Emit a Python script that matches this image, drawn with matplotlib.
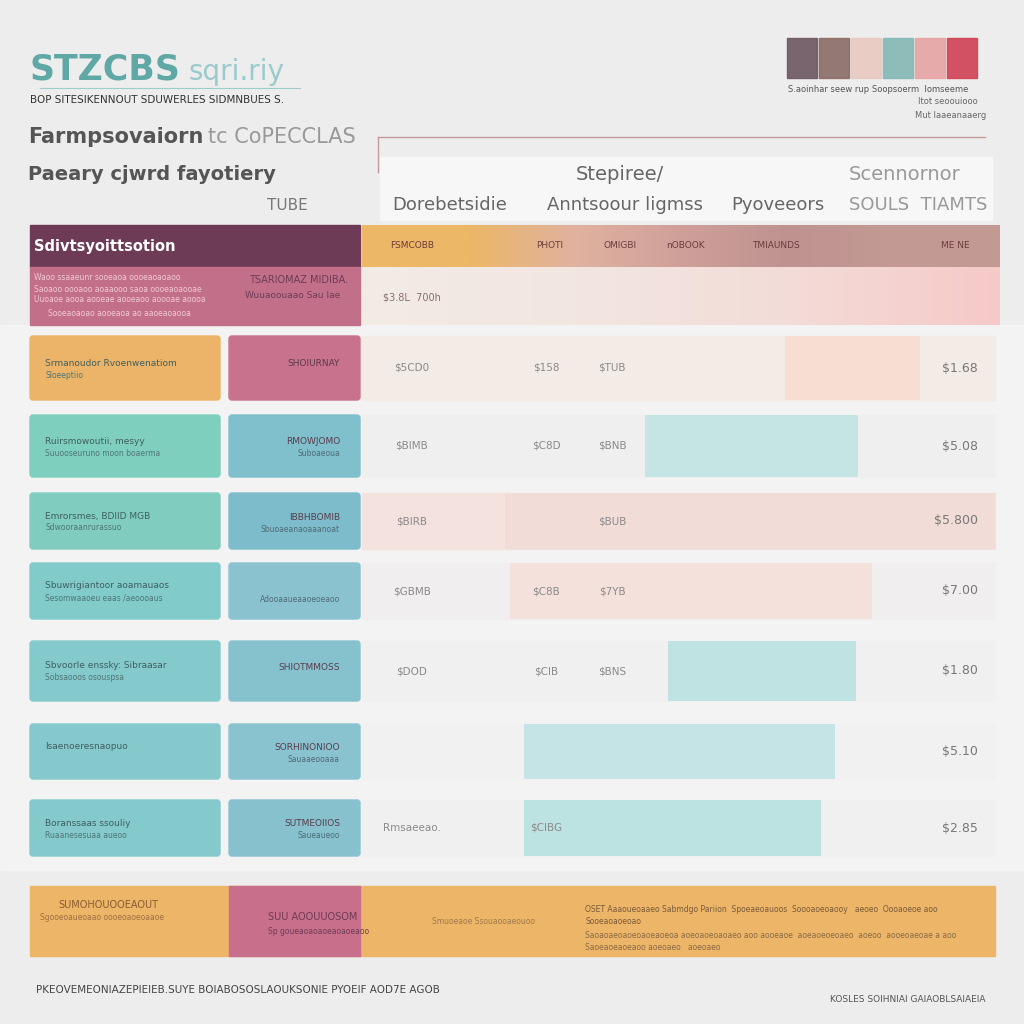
import numpy as np
import matplotlib.pyplot as plt
from matplotlib.patches import Rectangle, FancyBboxPatch
from matplotlib.colors import LinearSegmentedColormap

# --- data ---
row_titles = ["Srmanoudor Rvoenwenatiom", "Ruirsmowoutii, mesyy", "Emrorsmes, BDIID MGB",
              "Sbuwrigiantoor aoamauaos", "Sbvoorle enssky: Sibraasar", "Isaenoeresnaopuo",
              "Boranssaas ssouliy"]
row_subs = ["Sloeeptiio", "Suuooseuruno moon boaerma", "Sdwooraanrurassuo",
            "Sesomwaaoeu eaas /aeoooaus", "Sobsaooos osouspsa", "", "Ruaanesesuaa aueoo"]
mid_titles = ["SHOIURNAY", "RMOWJOMO", "IBBHBOMIB", "", "SHIOTMMOSS", "SORHINONIOO", "SUTMEOIIOS"]
mid_subs = ["", "Suboaeoua", "Sbuoaeanaoaaanoat", "Adooaaueaaoeoeaoo", "", "Sauaaeooaaa", "Saueaueoo"]
left_colors = ["#ebb468", "#7fcfbf", "#80cdbf", "#82cbcb", "#84cacd", "#85c9cd", "#84c9cc"]
mid_colors = ["#c8728d", "#80bfcc", "#7cbccb", "#8ac3cf", "#86c2ce", "#88c3cf", "#86c1cd"]
row_fill = ["#f2ebe6", "#efefef", "#f3e2dd", "#f0eeee", "#f0f0f0", "#f1f1f1", "#f0f0f0"]
first_vals = ["$5CD0", "$BIMB", "$BIRB", "$GBMB", "$DOD", "", "Rmsaeeao."]
second_vals = ["$158", "$C8D", "", "$C8B", "$CIB", "", "$CIBG"]
third_vals = ["$TUB", "$BNB", "$BUB", "$7YB", "$BNS", "", ""]
bar_start = [785, 645, 505, 510, 668, 524, 524]
bar_end = [920, 858, 995, 872, 856, 835, 821]
bar_colors = ["#f8ddd3", "#c5e5e4", "#f2dcd8", "#f5e1dc", "#bfe2e3", "#c5e4e5", "#bde2e2"]
prices = ["$1.68", "$5.08", "$5.800", "$7.00", "$1.80", "$5.10", "$2.85"]
row_top = [336, 415, 493, 563, 641, 724, 800]
row_bot = [400, 477, 549, 619, 701, 779, 856]

col_heads = ["Dorebetsidie", "Anntsoour ligmss", "Pyoveeors", "SOULS  TIAMTS"]
col_head_x = [450, 625, 778, 918]
swatch_colors = ["#6d5660", "#8b6b66", "#e9c9c0", "#84b8b4", "#e7a3a3", "#cf4154"]
head_cells = ["FSMCOBB", "PHOTI", "OMIGBI", "nOBOOK", "TMIAUNDS", "", "ME NE"]
head_x = [412, 550, 620, 685, 776, 878, 955]

fig = plt.figure(figsize=(10.24, 10.24), dpi=100)
fig.patch.set_facecolor("#ededed")
ax = fig.add_axes([0, 0, 1, 1])
ax.set_xlim(0, 1024)
ax.set_ylim(1024, 0)
ax.axis("off")

# light page panels
ax.add_patch(Rectangle((0, 325), 1024, 545, color="#f3f3f3", zorder=0))
ax.add_patch(Rectangle((380, 157), 612, 63, color="#f7f7f7", zorder=1))
ax.plot([378, 985], [137, 137], color="#c59a9a", lw=1.0)
ax.plot([378, 378], [137, 172], color="#c59a9a", lw=1.0)

# title block
ax.text(30, 70, "STZCBS", color="#5fa8a5", fontsize=25, fontweight="bold",
        family="DejaVu Sans", va="center")
ax.text(188, 72, "sqri.riy", color="#8cc4c6", fontsize=20, va="center", alpha=0.85)
ax.plot([40, 300], [88, 88], color="#9ecdcd", lw=0.8)
ax.text(30, 100, "BOP SITESIKENNOUT SDUWERLES SIDMNBUES S.", color="#333333",
        fontsize=7.5, va="center")
ax.text(28, 137, "Farmpsovaiorn", color="#555555", fontsize=15, fontweight="bold", va="center")
ax.text(208, 137, "tc CoPECCLAS", color="#999999", fontsize=15, va="center")
ax.text(28, 175, "Paeary cjwrd fayotiery", color="#555555", fontsize=14, fontweight="bold",
        va="center")
ax.text(287, 205, "TUBE", color="#777777", fontsize=11, ha="center", va="center")

# top right swatches
for i, c in enumerate(swatch_colors):
    ax.add_patch(Rectangle((787 + i * 32, 38), 30, 40, color=c, alpha=0.9, zorder=2))
ax.text(788, 89, "S.aoinhar seew rup", fontsize=6, color="#555555", va="center")
ax.text(872, 89, "Soopsoerm  Iomseeme", fontsize=6, color="#555555", va="center")
ax.text(918, 101, "Itot seoouiooo", fontsize=6, color="#666666", va="center")
ax.text(915, 116, "Mut Iaaeanaaerg", fontsize=6, color="#666666", va="center")

# column headers
ax.text(620, 175, "Stepiree/", fontsize=14, color="#666666", ha="center", va="center")
ax.text(905, 175, "Scennornor", fontsize=14, color="#999999", ha="center", va="center")
for x, s in zip(col_head_x, col_heads):
    ax.text(x, 205, s, fontsize=13, color="#666666" if x < 850 else "#999999",
            ha="center", va="center")

# header row
ax.add_patch(Rectangle((30, 225), 330, 42, color="#6e3b56", zorder=2))
ax.add_patch(Rectangle((30, 267), 330, 58, color="#c27089", zorder=2))
ax.text(34, 247, "Sdivtsyoittsotion", color="white", fontsize=10.5, fontweight="bold",
        va="center", zorder=3)
for k, s in enumerate(["Waoo ssaaeunr sooeaoa oooeaoaoaoo", "Saoaoo oooaoo aoaaooo saoa oooeaoaooae",
                       "Uuoaoe aooa aooeae aooeaoo aoooae aoooa"]):
    ax.text(34, 278 + k * 11, s, color="#f1c8d3", fontsize=5.5, va="center", zorder=3)
ax.text(48, 313, "Sooeaoaoao aooeaoa ao aaoeaoaooa", color="#f1c8d3", fontsize=5.5,
        va="center", zorder=3)
ax.text(348, 280, "TSARIOMAZ MIDIBA.", color="#6e3b56", fontsize=7, ha="right",
        va="center", zorder=3)
ax.text(340, 295, "Wuuaoouaao Sau Iae", color="#6e3b56", fontsize=6.5, ha="right",
        va="center", zorder=3)

hdr_cmap = LinearSegmentedColormap.from_list(
    "hdr", ["#ecb767", "#ecb767", "#e0b29f", "#cfa09a", "#bf9290", "#c39a94", "#c49a93"])
ax.imshow(np.linspace(0, 1, 256)[None, :], cmap=hdr_cmap, aspect="auto",
          extent=(362, 1000, 267, 225), zorder=2)
low_cmap = LinearSegmentedColormap.from_list(
    "low", ["#f3ebe6", "#f2e6e1", "#f3dcd8", "#f6c9c8"])
ax.imshow(np.linspace(0, 1, 256)[None, :], cmap=low_cmap, aspect="auto",
          extent=(362, 1000, 325, 267), zorder=2)
ax.set_xlim(0, 1024)
ax.set_ylim(1024, 0)
for x, s in zip(head_x, head_cells):
    ax.text(x, 246, s, fontsize=6.5, color="#6a3c3c", ha="center", va="center", zorder=3)
ax.text(412, 297, "$3.8L  700h", fontsize=7, color="#8a7070", ha="center", va="center", zorder=3)

# body rows
for i in range(len(row_titles)):
    t, b = row_top[i], row_bot[i]
    h = b - t
    ax.add_patch(FancyBboxPatch((30, t), 190, h, boxstyle="round,pad=0,rounding_size=3",
                                color=left_colors[i], zorder=2))
    ax.add_patch(FancyBboxPatch((229, t), 131, h, boxstyle="round,pad=0,rounding_size=3",
                                color=mid_colors[i], zorder=2))
    ax.add_patch(Rectangle((362, t), 633, h, color=row_fill[i], zorder=1))
    ax.barh((t + b) / 2, bar_end[i] - bar_start[i], left=bar_start[i], height=h,
            color=bar_colors[i], zorder=2)
    ax.text(45, (t + b) / 2 - 5, row_titles[i], fontsize=6.5, color="#3f5f5f",
            va="center", zorder=3)
    ax.text(45, (t + b) / 2 + 7, row_subs[i], fontsize=5.5, color="#4f7575",
            va="center", zorder=3)
    ax.text(340, (t + b) / 2 - 4, mid_titles[i], fontsize=6.5, color="#5a3b4b",
            ha="right", va="center", zorder=3)
    ax.text(340, (t + b) / 2 + 8, mid_subs[i], fontsize=5.5, color="#4f6b75",
            ha="right", va="center", zorder=3)
    ax.text(412, (t + b) / 2, first_vals[i], fontsize=7.5, color="#8a8a8a",
            ha="center", va="center", zorder=3)
    ax.text(546, (t + b) / 2, second_vals[i], fontsize=7.5, color="#8a8a8a",
            ha="center", va="center", zorder=3)
    ax.text(612, (t + b) / 2, third_vals[i], fontsize=7.5, color="#8a8a8a",
            ha="center", va="center", zorder=3)
    ax.text(978, (t + b) / 2, prices[i], fontsize=9, color="#777777",
            ha="right", va="center", zorder=3)

# footer row
ax.add_patch(Rectangle((30, 886), 965, 70, color="#ecb568", zorder=2))
ax.add_patch(Rectangle((229, 886), 131, 70, color="#c8708b", zorder=2))
ax.text(58, 905, "SUMOHOUOOEAOUT", fontsize=7, color="#8a5a30", va="center", zorder=3)
ax.text(40, 918, "Sgooeoaueoaao oooeoaoeoaaoe", fontsize=5.5, color="#a07040", va="center", zorder=3)
ax.text(268, 917, "SUU AOOUUOSOM", fontsize=7, color="#6e3b56", va="center", zorder=3)
ax.text(268, 932, "Sp goueaoaoaoeaoaoeaoo", fontsize=5.5, color="#6e3b56", va="center", zorder=3)
ax.text(432, 922, "Smuoeaoe Ssouaooaeouoo", fontsize=5.5, color="#a07a4a", va="center", zorder=3)
ax.text(585, 910, "OSET Aaaoueoaaeo Sabmdgo Pariion  Spoeaeoauoos  Soooaoeoaooy   aeoeo  Oooaoeoe aoo",
        fontsize=5.5, color="#7a5a3a", va="center", zorder=3)
ax.text(585, 922, "Sooeaoaoeoao", fontsize=5.5, color="#7a5a3a", va="center", zorder=3)
ax.text(585, 936, "Saoaoaeoaoeoaoeaoeoa aoeoaoeoaoaeo aoo aooeaoe  aoeaoeoeoaeo  aoeoo  aooeoaeoae a aoo",
        fontsize=5.5, color="#8a6a45", va="center", zorder=3)
ax.text(585, 948, "Saoeaoeaoeaoo aoeoaeo   aoeoaeo", fontsize=5.5, color="#8a6a45", va="center", zorder=3)

ax.text(36, 990, "PKEOVEMEONIAZEPIEIEB.SUYE BOIABOSOSLAOUKSONIE PYOEIF AOD7E AGOB",
        fontsize=7.5, color="#444444", va="center")
ax.text(985, 1000, "KOSLES SOIHNIAI GAIAOBLSAIAEIA", fontsize=6.5, color="#555555",
        ha="right", va="center")

fig.savefig("out.png", dpi=100, facecolor=fig.get_facecolor())
